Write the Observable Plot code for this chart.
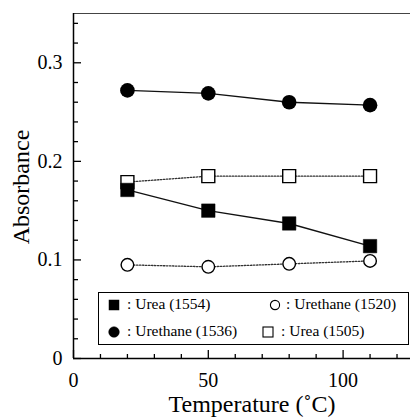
<!DOCTYPE html>
<html>
<head>
<meta charset="utf-8">
<script src="https://cdn.jsdelivr.net/npm/d3@7"></script>
<script src="https://cdn.jsdelivr.net/npm/@observablehq/plot@0.6"></script>
<style>
  html, body { margin: 0; padding: 0; background: #fff; }
  #wrap { position: relative; width: 410px; height: 418px; overflow: hidden; font-family: "Liberation Serif", "DejaVu Serif", Times, serif; }
  #legend { position: absolute; left: 98px; top: 292px; width: 311px; height: 53px; box-sizing: border-box; border: 1.2px solid #000; background: #fff; }
  .item { position: absolute; font-family: "Liberation Serif", "DejaVu Serif", Times, serif; font-size: 15.5px; line-height: 16px; white-space: nowrap; color: #000; }
  .mk { position: absolute; }
  #chart svg text { font-family: "Liberation Serif", "DejaVu Serif", Times, serif !important; }
</style>
</head>
<body>
<div id="wrap">
  <div id="chart"></div>
  <div id="legend"></div>
</div>
<script>
// ---- data ----
const temps = [20, 50, 80, 110];
const urea1554 = [0.171, 0.150, 0.137, 0.114];
const urethane1520 = [0.095, 0.093, 0.096, 0.099];
const urethane1536 = [0.272, 0.269, 0.260, 0.257];
const urea1505 = [0.179, 0.185, 0.185, 0.185];

const xMajor = [0, 50, 100];
const xMinor = [10, 20, 30, 40, 60, 70, 80, 90, 110, 120];
const yMajor = [0, 0.1, 0.2, 0.3];
const yMinor = [0.02, 0.04, 0.06, 0.08, 0.12, 0.14, 0.16, 0.18, 0.22, 0.24, 0.26, 0.28, 0.32, 0.34];

const xLabel = "Temperature (˚C)";
const yLabel = "Absorbance";
const legendLabels = [": Urea (1554)", ": Urethane (1520)", ": Urethane (1536)", ": Urea (1505)"];

const rows = (vals) => temps.map((t, i) => ({t, v: vals[i]}));
const dUrea1554 = rows(urea1554);
const dUrethane1520 = rows(urethane1520);
const dUrethane1536 = rows(urethane1536);
const dUrea1505 = rows(urea1505);

const serif = "'Liberation Serif', 'DejaVu Serif', Times, serif";

const chart = Plot.plot({
  width: 410,
  height: 418,
  marginLeft: 73,
  marginRight: 0,
  marginTop: 13,
  marginBottom: 60,
  x: {domain: [0, 125]},
  y: {domain: [0, 0.35]},
  style: {fontFamily: serif, background: "white", color: "black", overflow: "visible"},
  marks: [
    Plot.ruleY([0.35], {stroke: "#444", strokeWidth: 1.2}),
    Plot.axisY({ticks: yMajor, tickSize: -8, tickPadding: 19, fontSize: 20, label: null, tickFormat: d => d === 0 ? "0" : d.toFixed(1), strokeWidth: 1.3}),
    Plot.axisY({ticks: yMinor, tickSize: -5, tickFormat: () => "", label: null, strokeWidth: 1.3}),
    Plot.axisX({ticks: xMajor, tickSize: -8, tickPadding: 22, fontSize: 20, label: null, strokeWidth: 1.3}),
    Plot.axisX({ticks: xMinor, tickSize: -4, tickFormat: () => "", label: null, strokeWidth: 1.3}),
    Plot.ruleX([0], {strokeWidth: 1.5}),
    Plot.ruleY([0], {strokeWidth: 1.5}),
    Plot.line(dUrea1505, {x: "t", y: "v", stroke: "#333", strokeWidth: 1.3, strokeDasharray: "1.5,1.5"}),
    Plot.line(dUrethane1520, {x: "t", y: "v", stroke: "#333", strokeWidth: 1.3, strokeDasharray: "1.5,1.5"}),
    Plot.line(dUrea1554, {x: "t", y: "v", stroke: "#111", strokeWidth: 1.4}),
    Plot.line(dUrethane1536, {x: "t", y: "v", stroke: "#111", strokeWidth: 1.4}),
    Plot.dot(dUrea1505, {x: "t", y: "v", symbol: "square", r: 7.3, fill: "white", stroke: "black", strokeWidth: 1.4}),
    Plot.dot(dUrea1554, {x: "t", y: "v", symbol: "square", r: 7.6, fill: "black", stroke: "black", strokeWidth: 0.5}),
    Plot.dot(dUrethane1520, {x: "t", y: "v", symbol: "circle", r: 6.3, fill: "white", stroke: "black", strokeWidth: 1.4}),
    Plot.dot(dUrethane1536, {x: "t", y: "v", symbol: "circle", r: 7.3, fill: "black", stroke: "none"}),
    Plot.text([xLabel], {frameAnchor: "bottom", textAnchor: "middle", lineAnchor: "middle", dx: 10, dy: 46, fontSize: 24, fontFamily: serif}),
    Plot.text([yLabel], {frameAnchor: "left", textAnchor: "middle", lineAnchor: "middle", rotate: -90, dx: -52, dy: 1, fontSize: 24, fontFamily: serif})
  ]
});
document.getElementById("chart").appendChild(chart);

// ---- legend overlay ----
const wrap = document.getElementById("wrap");
const items = [
  {label: legendLabels[0], sym: "fsq", mx: 114, my: 305, tx: 127},
  {label: legendLabels[1], sym: "ocirc", mx: 275, my: 305, tx: 286},
  {label: legendLabels[2], sym: "fcirc", mx: 114, my: 332, tx: 127},
  {label: legendLabels[3], sym: "osq", mx: 268, my: 332, tx: 281}
];
const ns = "http://www.w3.org/2000/svg";
for (const it of items) {
  const s = document.createElementNS(ns, "svg");
  s.setAttribute("width", 14); s.setAttribute("height", 14);
  s.setAttribute("class", "mk");
  s.style.left = (it.mx - 7) + "px"; s.style.top = (it.my - 7) + "px";
  let el;
  if (it.sym === "fsq" || it.sym === "osq") {
    el = document.createElementNS(ns, "rect");
    el.setAttribute("x", 2); el.setAttribute("y", 2); el.setAttribute("width", 10); el.setAttribute("height", 10);
  } else {
    el = document.createElementNS(ns, "circle");
    el.setAttribute("cx", 7); el.setAttribute("cy", 7); el.setAttribute("r", it.sym === "fcirc" ? 5.3 : 4.6);
  }
  const filled = it.sym[0] === "f";
  el.setAttribute("fill", filled ? "black" : "white");
  el.setAttribute("stroke", "black");
  el.setAttribute("stroke-width", filled ? 0.5 : 1.1);
  s.appendChild(el);
  wrap.appendChild(s);
  const t = document.createElement("div");
  t.className = "item";
  t.textContent = it.label;
  t.style.left = it.tx + "px";
  t.style.top = (it.my - 9) + "px";
  wrap.appendChild(t);
}
</script>
</body>
</html>
